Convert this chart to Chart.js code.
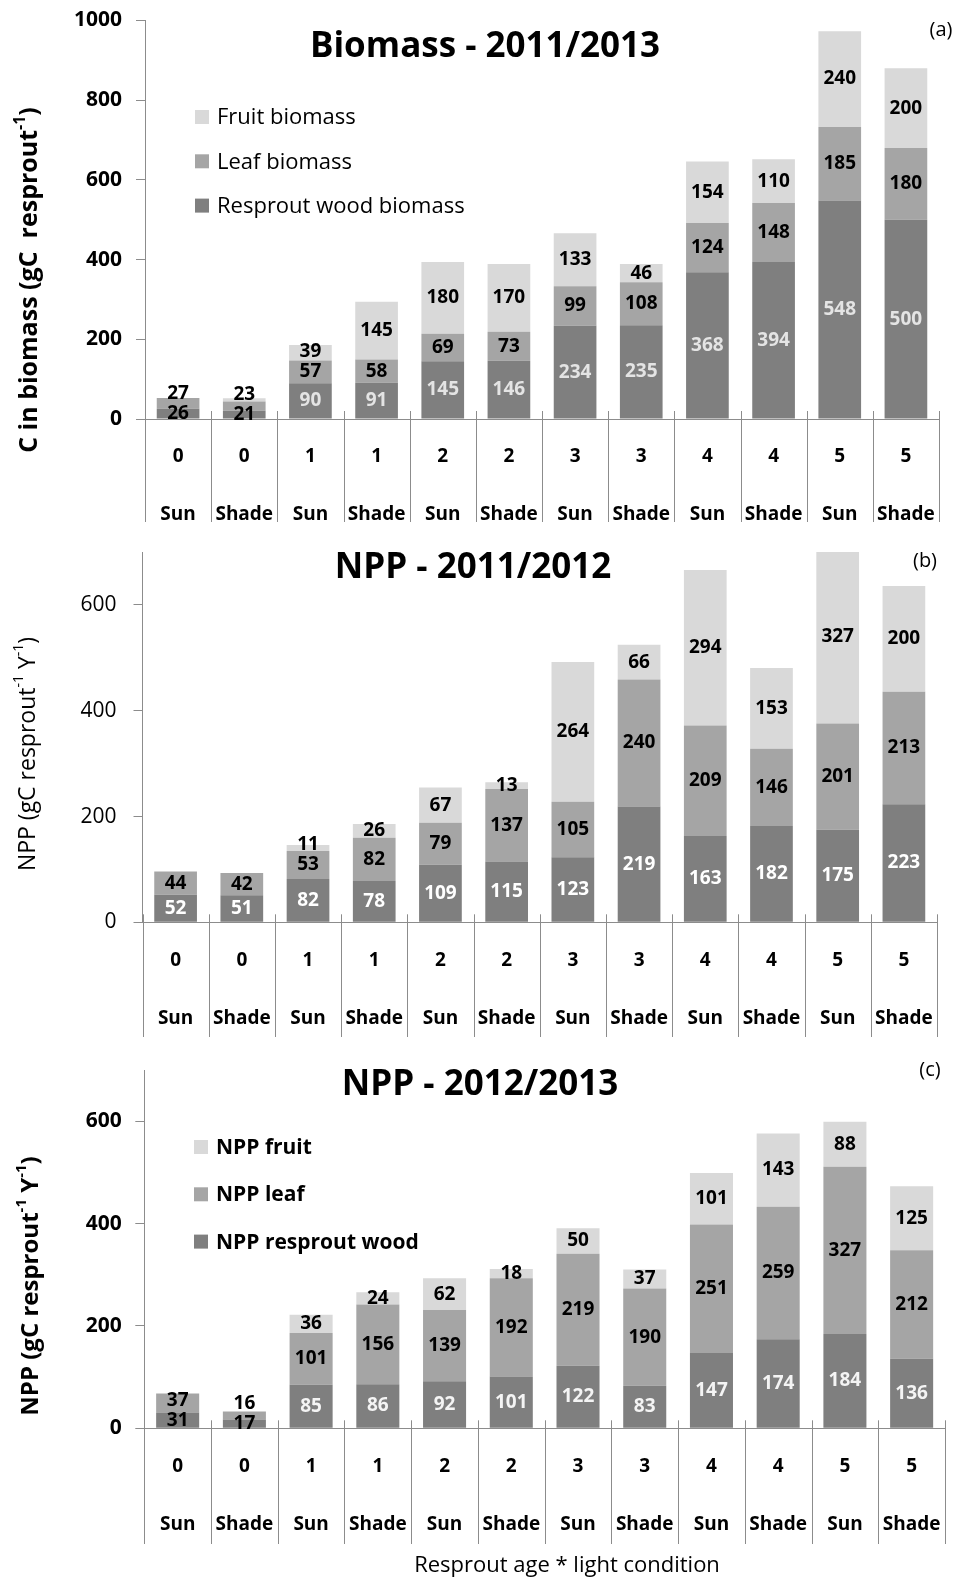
<!DOCTYPE html>
<html>
<head>
<meta charset="utf-8">
<script src="https://cdn.jsdelivr.net/npm/chart.js@4.4.1/dist/chart.umd.min.js"></script>
<style>
  body { margin: 0; background: #fff; }
  #wrap { position: relative; width: 954px; height: 1578px; }
  canvas { position: absolute; left: 0; }
</style>
</head>
<body>
<div id="wrap">
  <canvas id="chartA" width="954" height="530" style="top:0px"></canvas>
  <canvas id="chartB" width="954" height="515" style="top:530px"></canvas>
  <canvas id="chartC" width="954" height="533" style="top:1045px"></canvas>
</div>
<script>
// categories: resprout age and light condition
const ages = ['0', '0', '1', '1', '2', '2', '3', '3', '4', '4', '5', '5'];
const light = ['Sun', 'Shade', 'Sun', 'Shade', 'Sun', 'Shade', 'Sun', 'Shade', 'Sun', 'Shade', 'Sun', 'Shade'];

// (a) Biomass 2011/2013
const biomassWood = [26, 21, 90, 91, 145, 146, 234, 235, 368, 394, 548, 500];
const biomassLeaf = [27, 23, 57, 58, 69, 73, 99, 108, 124, 148, 185, 180];
const biomassFruit = [0, 8, 39, 145, 180, 170, 133, 46, 154, 110, 240, 200];

// (b) NPP 2011/2012
const npp1Wood = [52, 51, 82, 78, 109, 115, 123, 219, 163, 182, 175, 223];
const npp1Leaf = [44, 42, 53, 82, 79, 137, 105, 240, 209, 146, 201, 213];
const npp1Fruit = [0, 0, 11, 26, 67, 13, 264, 66, 294, 153, 327, 200];

// (c) NPP 2012/2013
const npp2Wood = [31, 17, 85, 86, 92, 101, 122, 83, 147, 174, 184, 136];
const npp2Leaf = [37, 16, 101, 156, 139, 192, 219, 190, 251, 259, 327, 212];
const npp2Fruit = [0, 0, 36, 24, 62, 18, 50, 37, 101, 143, 88, 125];

// y axis ranges
const biomassMax = 1000;
const nppMax = 700;
const tickStep = 200;

const FONT = '"Open Sans", "Liberation Sans", sans-serif';
const AXIS_COLOR = '#8c8c8c';
const colWood = '#7f7f7f';
const colLeaf = '#a5a5a5';
const colFruit = '#d9d9d9';

const labels = ages.map((a, i) => [a, light[i]]);

// value labels in the middle of each stacked segment
const segLabels = {
	id: 'segLabels',
	afterDatasetsDraw(chart, args, opts) {
		const ctx = chart.ctx;
		ctx.save();
		ctx.font = 'bold 19px ' + FONT;
		ctx.textAlign = 'center';
		ctx.textBaseline = 'middle';
		for (let i = 0; i < chart.data.labels.length; i++) {
			let prevY = null;
			chart.data.datasets.forEach((ds, d) => {
				const el = chart.getDatasetMeta(d).data[i];
				const v = ds.data[i];
				if (!el || v < 10) return;
				let y = (el.y + el.base) / 2;
				// keep labels of thin segments from sitting on each other
				if (prevY !== null && prevY - y < 20) y = prevY - 20;
				prevY = y;
				ctx.fillStyle = (d === 0 && v >= 40) ? opts.lightColor : '#000';
				ctx.fillText(String(v), el.x, y);
			});
		}
		ctx.restore();
	}
};

function drawRuns(ctx, runs, size, weight) {
	// runs: [text, isSuperscript]
	const supSize = Math.round(size * 0.62);
	let total = 0;
	runs.forEach(r => {
		ctx.font = weight + ' ' + (r[1] ? supSize : size) + 'px ' + FONT;
		total += ctx.measureText(r[0]).width;
	});
	let x = -total / 2;
	runs.forEach(r => {
		ctx.font = weight + ' ' + (r[1] ? supSize : size) + 'px ' + FONT;
		ctx.fillText(r[0], x, r[1] ? -size * 0.38 : 0);
		x += ctx.measureText(r[0]).width;
	});
}

// titles, legend, axis titles and category separators
const decor = {
	id: 'decor',
	afterDraw(chart, args, o) {
		const ctx = chart.ctx;
		const xs = chart.scales.x;
		const axisY = chart.scales.y.getPixelForValue(0);
		ctx.save();
		// separators of the two-level category axis
		ctx.strokeStyle = AXIS_COLOR;
		ctx.lineWidth = 1;
		for (let i = 0; i <= chart.data.labels.length; i++) {
			const x = Math.round(xs.getPixelForValue(i - 0.5)) + 0.5;
			ctx.beginPath();
			ctx.moveTo(x, axisY - 8);
			ctx.lineTo(x, o.sepBottom);
			ctx.stroke();
		}
		ctx.fillStyle = '#000';
		ctx.textBaseline = 'middle';
		// chart title and panel letter
		ctx.textAlign = 'center';
		ctx.font = 'bold 35px ' + FONT;
		ctx.fillText(o.title, o.titleX, o.titleY);
		ctx.font = '20px ' + FONT;
		ctx.fillText(o.letter, o.letterX, o.letterY);
		// legend (fruit on top)
		if (o.legend) {
			const L = o.legend;
			const items = chart.data.datasets.slice().reverse();
			items.forEach((ds, k) => {
				const cy = L.y + k * L.gap;
				ctx.fillStyle = ds.backgroundColor;
				ctx.fillRect(L.x, cy - 7, 14, 14);
				ctx.fillStyle = '#000';
				ctx.textAlign = 'left';
				ctx.font = L.weight + ' ' + L.size + 'px ' + FONT;
				ctx.fillText(ds.label, L.x + 22, cy + 1);
			});
		}
		// y axis title
		ctx.save();
		ctx.translate(o.yTitle.x, o.yTitle.y);
		ctx.rotate(-Math.PI / 2);
		ctx.textAlign = 'left';
		drawRuns(ctx, o.yTitle.runs, o.yTitle.size, o.yTitle.weight);
		ctx.restore();
		// x axis title
		if (o.xTitle) {
			ctx.textAlign = 'center';
			ctx.font = '22px ' + FONT;
			ctx.fillText(o.xTitle.text, o.xTitle.x, o.xTitle.y);
		}
		ctx.restore();
	}
};

function makeChart(id, data, names, cfg) {
	return new Chart(document.getElementById(id), {
		type: 'bar',
		data: {
			labels: labels,
			datasets: [
				{ label: names[0], data: data[0], backgroundColor: colWood },
				{ label: names[1], data: data[1], backgroundColor: colLeaf },
				{ label: names[2], data: data[2], backgroundColor: colFruit }
			]
		},
		options: {
			responsive: false,
			animation: false,
			devicePixelRatio: 1,
			datasets: { bar: { categoryPercentage: 1, barPercentage: 0.645 } },
			layout: { padding: { top: cfg.top, right: cfg.right, left: 0, bottom: 0 }, autoPadding: false },
			plugins: {
				legend: { display: false },
				tooltip: { enabled: false },
				segLabels: { lightColor: cfg.labelLight },
				decor: cfg.decor
			},
			scales: {
				x: {
					stacked: true,
					offset: true,
					grid: { display: false, drawTicks: false },
					border: { display: true, color: AXIS_COLOR },
					ticks: {
						autoSkip: false, maxRotation: 0, minRotation: 0, padding: 9, color: '#000',
						font: { family: FONT, size: 19, weight: 'bold', lineHeight: 58 / 19 }
					},
					afterFit(s) { s.height = cfg.xHeight; s.paddingLeft = 0; s.paddingRight = 0; }
				},
				y: {
					stacked: true,
					min: 0,
					max: cfg.max,
					grid: { drawOnChartArea: false, drawTicks: true, tickLength: 9, color: AXIS_COLOR },
					border: { color: AXIS_COLOR },
					ticks: {
						stepSize: tickStep, includeBounds: false, padding: cfg.tickPad, color: '#000',
						font: { family: FONT, size: 21, weight: cfg.tickWeight },
						callback: (v) => String(v)
					},
					afterFit(s) { s.width = cfg.left; s.paddingTop = 0; s.paddingBottom = 0; }
				}
			}
		},
		plugins: [segLabels, decor]
	});
}

makeChart('chartA', [biomassWood, biomassLeaf, biomassFruit],
	['Resprout wood biomass', 'Leaf biomass', 'Fruit biomass'], {
		top: 20.5, right: 15, left: 145, xHeight: 111, max: biomassMax, tickPad: 14,
		tickWeight: 'bold', labelLight: '#e4e4e4',
		decor: {
			sepBottom: 522, title: 'Biomass - 2011/2013', titleX: 485, titleY: 47,
			letter: '(a)', letterX: 941, letterY: 30,
			legend: { x: 195, y: 117, gap: 44.3, size: 22, weight: 'normal' },
			yTitle: { x: 30, y: 280, size: 25, weight: 'bold',
				runs: [['C in biomass (gC  resprout', false], ['-1', true], [')', false]] }
		}
	});

makeChart('chartB', [npp1Wood, npp1Leaf, npp1Fruit],
	['NPP resprout wood', 'NPP leaf', 'NPP fruit'], {
		top: 22.1, right: 17, left: 142.5, xHeight: 122.7, max: nppMax, tickPad: 17,
		tickWeight: 'normal', labelLight: '#ffffff',
		decor: {
			sepBottom: 507, title: 'NPP - 2011/2012', titleX: 473, titleY: 38,
			letter: '(b)', letterX: 925, letterY: 31,
			legend: null,
			yTitle: { x: 28, y: 224, size: 23, weight: 'normal',
				runs: [['NPP (gC resprout', false], ['-1', true], [' Y', false], ['-1', true], [')', false]] }
		}
	});

makeChart('chartC', [npp2Wood, npp2Leaf, npp2Fruit],
	['NPP resprout wood', 'NPP leaf', 'NPP fruit'], {
		top: 25, right: 9, left: 144.3, xHeight: 149.7, max: nppMax, tickPad: 13.5,
		tickWeight: 'bold', labelLight: '#f4f4f4',
		decor: {
			sepBottom: 499, title: 'NPP - 2012/2013', titleX: 480, titleY: 40,
			letter: '(c)', letterX: 930, letterY: 25,
			legend: { x: 194, y: 102, gap: 47.3, size: 21, weight: 'bold' },
			yTitle: { x: 31, y: 241, size: 24, weight: 'bold',
				runs: [['NPP (gC resprout', false], ['-1', true], [' Y', false], ['-1', true], [')', false]] },
			xTitle: { text: 'Resprout age * light condition', x: 567, y: 521 }
		}
	});
</script>
</body>
</html>
